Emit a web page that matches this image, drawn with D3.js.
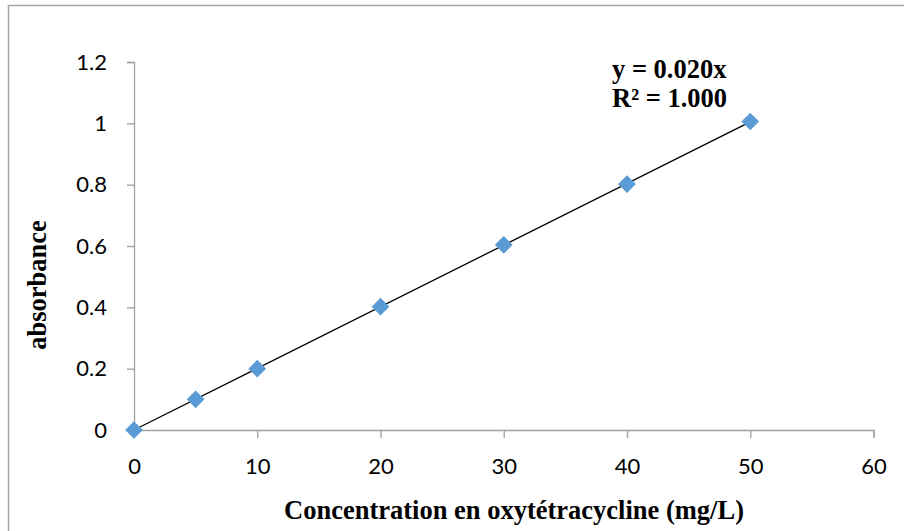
<!DOCTYPE html>
<html>
<head>
<meta charset="utf-8">
<script src="https://cdn.jsdelivr.net/npm/d3@7"></script>
<style>
  html, body { margin: 0; padding: 0; background: #fff; }
  svg { display: block; }
</style>
</head>
<body>
<svg id="chart" width="904" height="531"></svg>
<script>
// Calibration data: oxytetracycline concentration (mg/L) vs absorbance
const concentrations = [0, 5, 10, 20, 30, 40, 50];
const absorbances = [0, 0.1, 0.2, 0.402, 0.604, 0.802, 1.006];
const xTicks = [0, 10, 20, 30, 40, 50, 60];
const yTicks = [0, 0.2, 0.4, 0.6, 0.8, 1, 1.2];
const equationLines = ["y = 0.020x", "R² = 1.000"];
const xTitle = "Concentration en oxytétracycline (mg/L)";
const yTitle = "absorbance";

const svg = d3.select("#chart");
const W = 904, H = 531;
const plot = { left: 134, right: 873.5, top: 62, bottom: 430 };

// Outer chart frame (only top and left edges fall inside the view)
svg.append("rect")
  .attr("x", 8.5).attr("y", 5.5)
  .attr("width", W + 20).attr("height", H + 20)
  .attr("fill", "none").attr("stroke", "#a6a6a6").attr("stroke-width", 1.5);

const x = d3.scaleLinear().domain([0, 60]).range([plot.left, plot.right]);
const y = d3.scaleLinear().domain([0, 1.2]).range([plot.bottom, plot.top]);

const axisColor = "#a0a0a0";
const tickFont = "Lato, 'Open Sans', sans-serif";
const tickSize = 22;

// X axis
const gx = svg.append("g")
  .attr("transform", `translate(0,${plot.bottom})`)
  .call(d3.axisBottom(x).tickValues(xTicks).tickSize(8).tickPadding(20).tickFormat(d3.format("d")));
gx.select(".domain").attr("stroke", axisColor).attr("stroke-width", 1.3);
gx.selectAll(".tick line").attr("stroke", axisColor).attr("stroke-width", 1.3);
gx.selectAll(".tick text")
  .attr("fill", "#000").attr("font-family", tickFont).attr("font-size", tickSize);

// Y axis
const gy = svg.append("g")
  .attr("transform", `translate(${plot.left},0)`)
  .call(d3.axisLeft(y).tickValues(yTicks).tickSize(7).tickPadding(20).tickFormat(d => d3.format("~g")(d)));
gy.select(".domain").attr("stroke", axisColor).attr("stroke-width", 1.3);
gy.selectAll(".tick line").attr("stroke", axisColor).attr("stroke-width", 1.3);
gy.selectAll(".tick text")
  .attr("fill", "#000").attr("font-family", tickFont).attr("font-size", tickSize);

// Least-squares slope through the origin for the trendline
const slope = d3.sum(concentrations, (c, i) => c * absorbances[i]) /
              d3.sum(concentrations, c => c * c);
const xMax = d3.max(concentrations);

svg.append("line")
  .attr("x1", x(0)).attr("y1", y(0))
  .attr("x2", x(xMax)).attr("y2", y(slope * xMax))
  .attr("stroke", "#000").attr("stroke-width", 1.3);

// Diamond markers
const diamond = d3.symbol().type(d3.symbolDiamond2).size(200);
svg.append("g").selectAll("path")
  .data(concentrations.map((c, i) => [c, absorbances[i]]))
  .join("path")
  .attr("d", diamond)
  .attr("transform", d => `translate(${x(d[0])},${y(d[1])})`)
  .attr("fill", "#5b9bd5");

// Trendline equation
const serif = "'Liberation Serif', 'Times New Roman', serif";
const serifSize = 26.5;
svg.append("g").selectAll("text")
  .data(equationLines)
  .join("text")
  .attr("x", 612)
  .attr("y", (d, i) => 78 + i * 29)
  .attr("font-family", serif).attr("font-weight", "bold").attr("font-size", serifSize)
  .text(d => d);

// Axis titles
svg.append("text")
  .attr("x", 514).attr("y", 519)
  .attr("text-anchor", "middle")
  .attr("font-family", serif).attr("font-weight", "bold").attr("font-size", serifSize)
  .text(xTitle);

svg.append("text")
  .attr("transform", "translate(46,285) rotate(-90)")
  .attr("text-anchor", "middle")
  .attr("font-family", serif).attr("font-weight", "bold").attr("font-size", serifSize)
  .text(yTitle);
</script>
</body>
</html>
